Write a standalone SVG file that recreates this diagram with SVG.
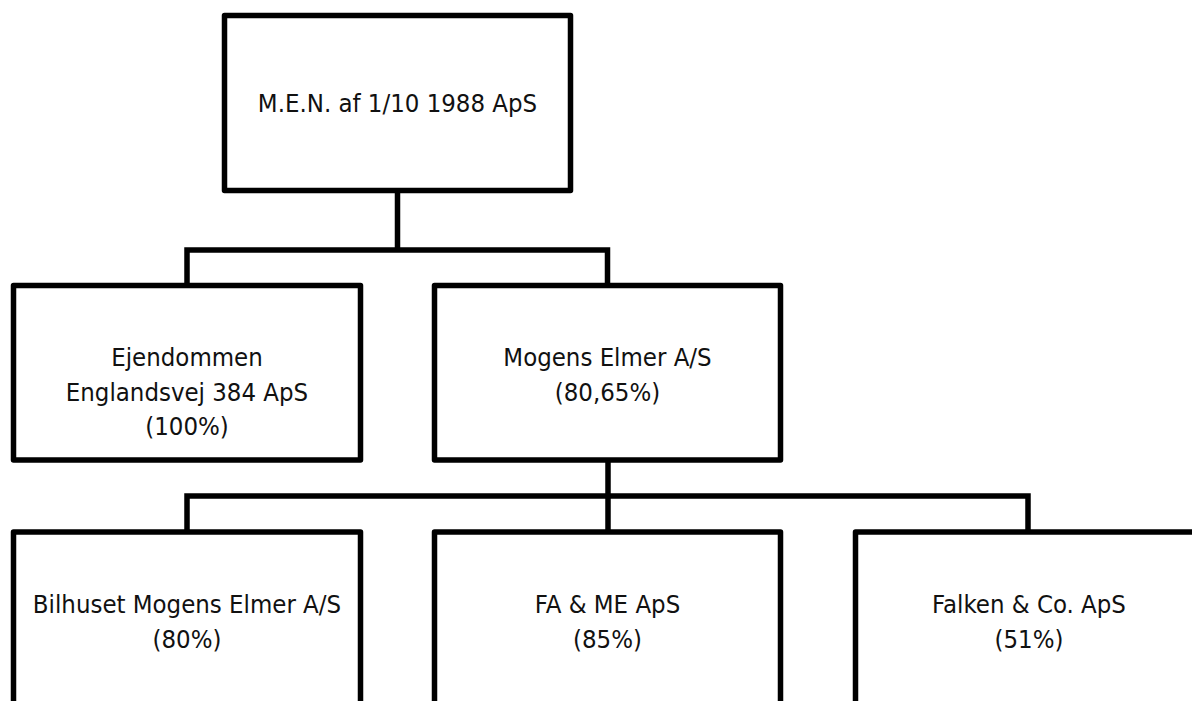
<svg xmlns="http://www.w3.org/2000/svg" width="1192" height="701" viewBox="0 0 1192 701">
<style>
.box{fill:#fff;stroke:#000;stroke-width:5.5;stroke-linejoin:round}
.con{fill:none;stroke:#000;stroke-width:5.5;stroke-linecap:butt;stroke-linejoin:miter}
.t{font-family:"DejaVu Sans Condensed","DejaVu Sans","Liberation Sans",sans-serif;font-stretch:condensed;font-size:25.5px;fill:#111;text-anchor:middle}
</style>
<rect width="1192" height="701" fill="#fff"/>
<g id="connectors">
<path class="con" d="M397.5 190.5 V250 M187 285.5 V250 H607.5 V285.5"/>
<path class="con" d="M608 460 V532 M187 532 V496 H1028 V532"/>
</g>
<g id="n-men"><rect class="box" x="224.5" y="15.5" width="346" height="175"/><text class="t" x="397.5" y="112">M.E.N. af 1/10 1988 ApS</text></g>
<g id="n-ejendommen"><rect class="box" x="13.5" y="285.5" width="347" height="174.5"/><text class="t" x="187" y="366">Ejendommen</text><text class="t" x="187" y="401">Englandsvej 384 ApS</text><text class="t" x="187" y="435">(100%)</text></g>
<g id="n-mogens"><rect class="box" x="434.5" y="285.5" width="346" height="174.5"/><text class="t" x="607.5" y="366">Mogens Elmer A/S</text><text class="t" x="607.5" y="401">(80,65%)</text></g>
<g id="n-bilhuset"><rect class="box" x="13.5" y="532" width="347" height="200"/><text class="t" x="187" y="613">Bilhuset Mogens Elmer A/S</text><text class="t" x="187" y="648">(80%)</text></g>
<g id="n-fame"><rect class="box" x="434.5" y="532" width="346" height="200"/><text class="t" x="607.5" y="613">FA &amp; ME ApS</text><text class="t" x="607.5" y="648">(85%)</text></g>
<g id="n-falken"><rect class="box" x="855.5" y="532" width="400" height="200"/><text class="t" x="1029" y="613">Falken &amp; Co. ApS</text><text class="t" x="1029" y="648">(51%)</text></g>
</svg>
